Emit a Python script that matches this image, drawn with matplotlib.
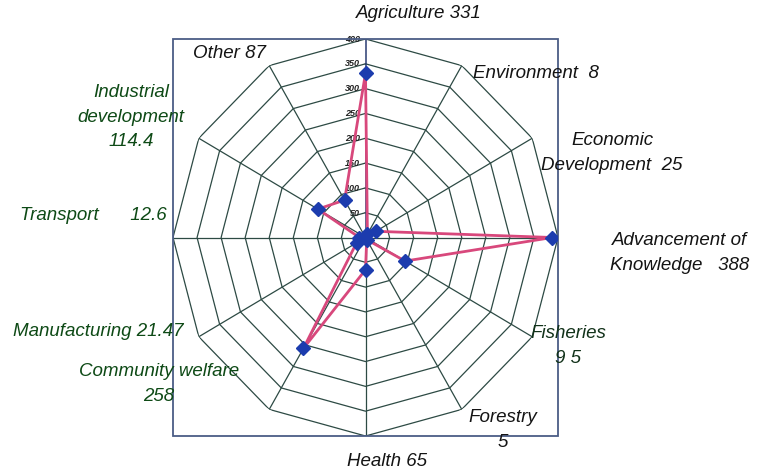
import numpy as np
import matplotlib.pyplot as plt
from matplotlib.patches import Rectangle

# data, clockwise from the top
categories = ["Agriculture", "Environment", "Economic Development",
              "Advancement of Knowledge", "Fisheries", "Forestry", "Health",
              "Community welfare", "Manufacturing", "Transport",
              "Industrial development", "Other"]
values = [331, 8, 25, 388, 95, 5, 65, 258, 21.47, 12.6, 114.4, 87]
ring_levels = [50, 100, 150, 200, 250, 300, 350, 400]

W, H = 757, 472
fig = plt.figure(figsize=(W / 100, H / 100), dpi=100)
fig.patch.set_facecolor("white")

# plot box in pixels: left 173, right 558, top 39, bottom 436
ax = fig.add_axes([173 / W, 1 - 436 / H, 385 / W, 397 / H], projection="polar")
ax.set_aspect("auto")
ax.set_theta_zero_location("N")
ax.set_theta_direction(-1)
ax.set_ylim(0, 400)
ax.grid(False)
ax.set_xticks([])
ax.set_yticks([])
ax.spines["polar"].set_visible(False)
ax.patch.set_alpha(0)

n = len(categories)
theta = np.linspace(0, 2 * np.pi, n, endpoint=False)
closed = np.append(theta, theta[0])

grid_col = "#2d4a44"
for r in ring_levels:
    ax.plot(closed, [r] * (n + 1), color=grid_col, lw=0.9, zorder=1)
for i, t in enumerate(theta):
    c = "#2a3c72" if i == 0 else grid_col
    ax.plot([t, t], [0, 400], color=c, lw=1.1 if i == 0 else 0.9, zorder=1)

# radial value labels along the top spoke
for r in ring_levels:
    ax.text(-0.03 * 400 / r, r, str(r), fontsize=6.5, style="italic",
            fontweight="bold", family="Liberation Sans", ha="right",
            va="center", color="#222222", zorder=2)

# frame
ax.add_patch(Rectangle((0, 0), 1, 1, transform=ax.transAxes, fill=False,
                       edgecolor="#4b5d86", lw=1.3, clip_on=False, zorder=3))

vals = np.append(values, values[0])
ax.plot(closed, vals, color="#d8487c", lw=2.0, zorder=4)
ax.plot(theta, values, ls="none", marker="D", ms=7.5, color="#1c3cae",
        markeredgecolor="#1c3cae", zorder=5)

black = "#141414"
green = "#0e4a16"
font = dict(family="Liberation Sans", style="italic", fontsize=13.5)


def px(x, y):
    return x / W, 1 - y / H


labels = [
    ("Agriculture 331", 419, 14, "center", black),
    ("Environment  8", 473, 74, "left", black),
    ("Economic\nDevelopment  25", 612, 153, "center", black),
    ("Advancement of\nKnowledge   388", 680, 253, "center", black),
    ("Fisheries\n9 5", 568, 346, "center", "#12321a"),
    ("Forestry\n5", 503, 430, "center", black),
    ("Health 65", 387, 461, "center", black),
    ("Community welfare\n258", 159, 384, "center", green),
    ("Manufacturing 21.47", 13, 332, "left", green),
    ("Transport      12.6", 20, 216, "left", green),
    ("Industrial\ndevelopment\n114.4", 131, 117, "center", green),
    ("Other 87", 193, 54, "left", black),
]
for txt, x, y, ha, col in labels:
    fig.text(*px(x, y), txt, ha=ha, va="center", multialignment="center",
             color=col, linespacing=1.6, **font)

fig.savefig("out.png", dpi=100)
